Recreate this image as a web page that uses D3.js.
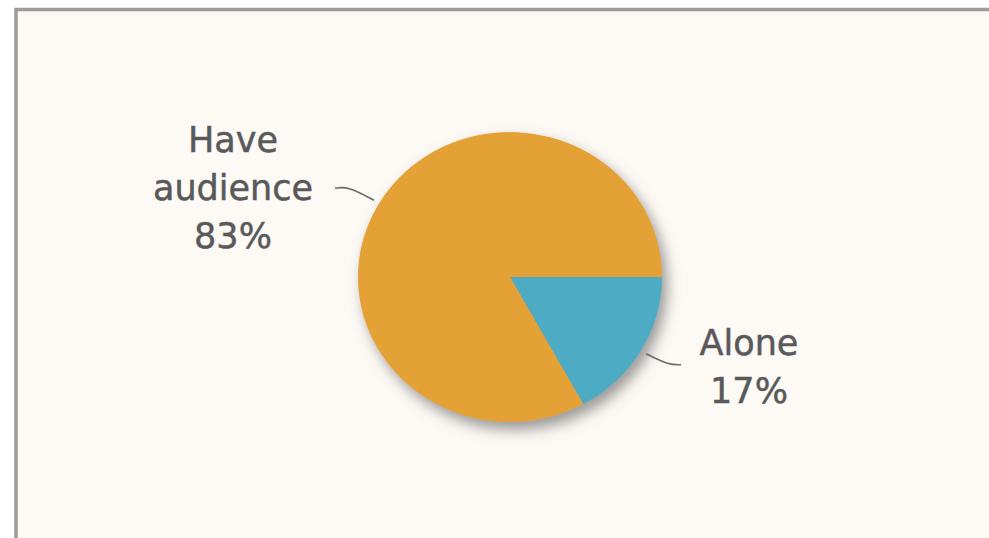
<!DOCTYPE html>
<html>
<head>
<meta charset="utf-8">
<script src="https://cdn.jsdelivr.net/npm/d3@7"></script>
<style>
  html, body { margin: 0; padding: 0; background: #ffffff; }
  svg { display: block; }
</style>
</head>
<body>
<svg id="chart" width="989" height="538"></svg>
<script>
// Who is present while the task is performed
const categories = ["Alone", "Have audience"];
const shares = [17, 83];
const labelLines = [["Alone", "17%"], ["Have", "audience", "83%"]];
const colors = ["#4eacc3", "#e4a136"];

const W = 989, H = 538;
const svg = d3.select("#chart");

// Panel with a grey frame on the top and left
svg.append("rect").attr("x", 0).attr("y", 0).attr("width", W).attr("height", H).attr("fill", "#ffffff");
svg.append("rect").attr("x", 16).attr("y", 9.5).attr("width", W).attr("height", H)
  .attr("fill", "#fdf9f4").attr("stroke", "#9b9b9b").attr("stroke-width", 3.5);

const defs = svg.append("defs");
const f = defs.append("filter").attr("id", "shadow")
  .attr("x", "-20%").attr("y", "-20%").attr("width", "140%").attr("height", "140%");
f.append("feDropShadow").attr("dx", 5).attr("dy", 8).attr("stdDeviation", 7)
  .attr("flood-color", "#707070").attr("flood-opacity", 0.7);

const cx = 510, cy = 277, R = 152, squash = 0.954;

// Slices start at 3 o'clock and run clockwise
const pie = d3.pie().sort(null).value(d => d).startAngle(Math.PI / 2).endAngle(Math.PI / 2 + 2 * Math.PI);
const arcs = pie(shares);
const arc = d3.arc().innerRadius(0).outerRadius(R);

const g = svg.append("g").attr("transform", `translate(${cx},${cy}) scale(1,${squash})`);
g.append("g").attr("filter", "url(#shadow)")
  .selectAll("path").data(arcs).enter().append("path")
  .attr("d", arc)
  .attr("fill", (d, i) => colors[i]);

// Leader lines and labels
const pt = (a, r) => [cx + r * Math.sin(a), cy - r * Math.cos(a) * squash];
const fontSize = 35, lineH = 48;

arcs.forEach((d, i) => {
  const mid = (d.startAngle + d.endAngle) / 2;
  const right = Math.sin(mid) > 0;
  const p0 = pt(mid, 158);
  let pts, tx, firstBase;
  if (right) {
    const p1 = [p0[0] + 22, p0[1] + 11];
    const p2 = [p1[0] + 13, p1[1]];
    pts = [p0, p1, p2];
    tx = p2[0] + 68;
    firstBase = p2[1] - 10;
  } else {
    const p1 = [p0[0] - 26, p0[1] - 14];
    const p2 = [p1[0] - 13, p1[1] + 2];
    pts = [p0, p1, p2];
    tx = p2[0] - 102;
    firstBase = p2[1] - 36;
  }
  svg.append("path")
    .attr("d", d3.line().curve(d3.curveBasis)(pts))
    .attr("fill", "none").attr("stroke", "#6a6a6a").attr("stroke-width", 1.6);
  const t = svg.append("text")
    .attr("text-anchor", "middle")
    .attr("font-family", "'DejaVu Sans', Verdana, sans-serif")
    .attr("font-size", fontSize)
    .attr("fill", "#59595b")
    .attr("stroke", "#59595b").attr("stroke-width", 0.5);
  labelLines[i].forEach((s, k) => {
    t.append("tspan").attr("x", tx).attr("y", firstBase + k * lineH).text(s);
  });
});
</script>
</body>
</html>
